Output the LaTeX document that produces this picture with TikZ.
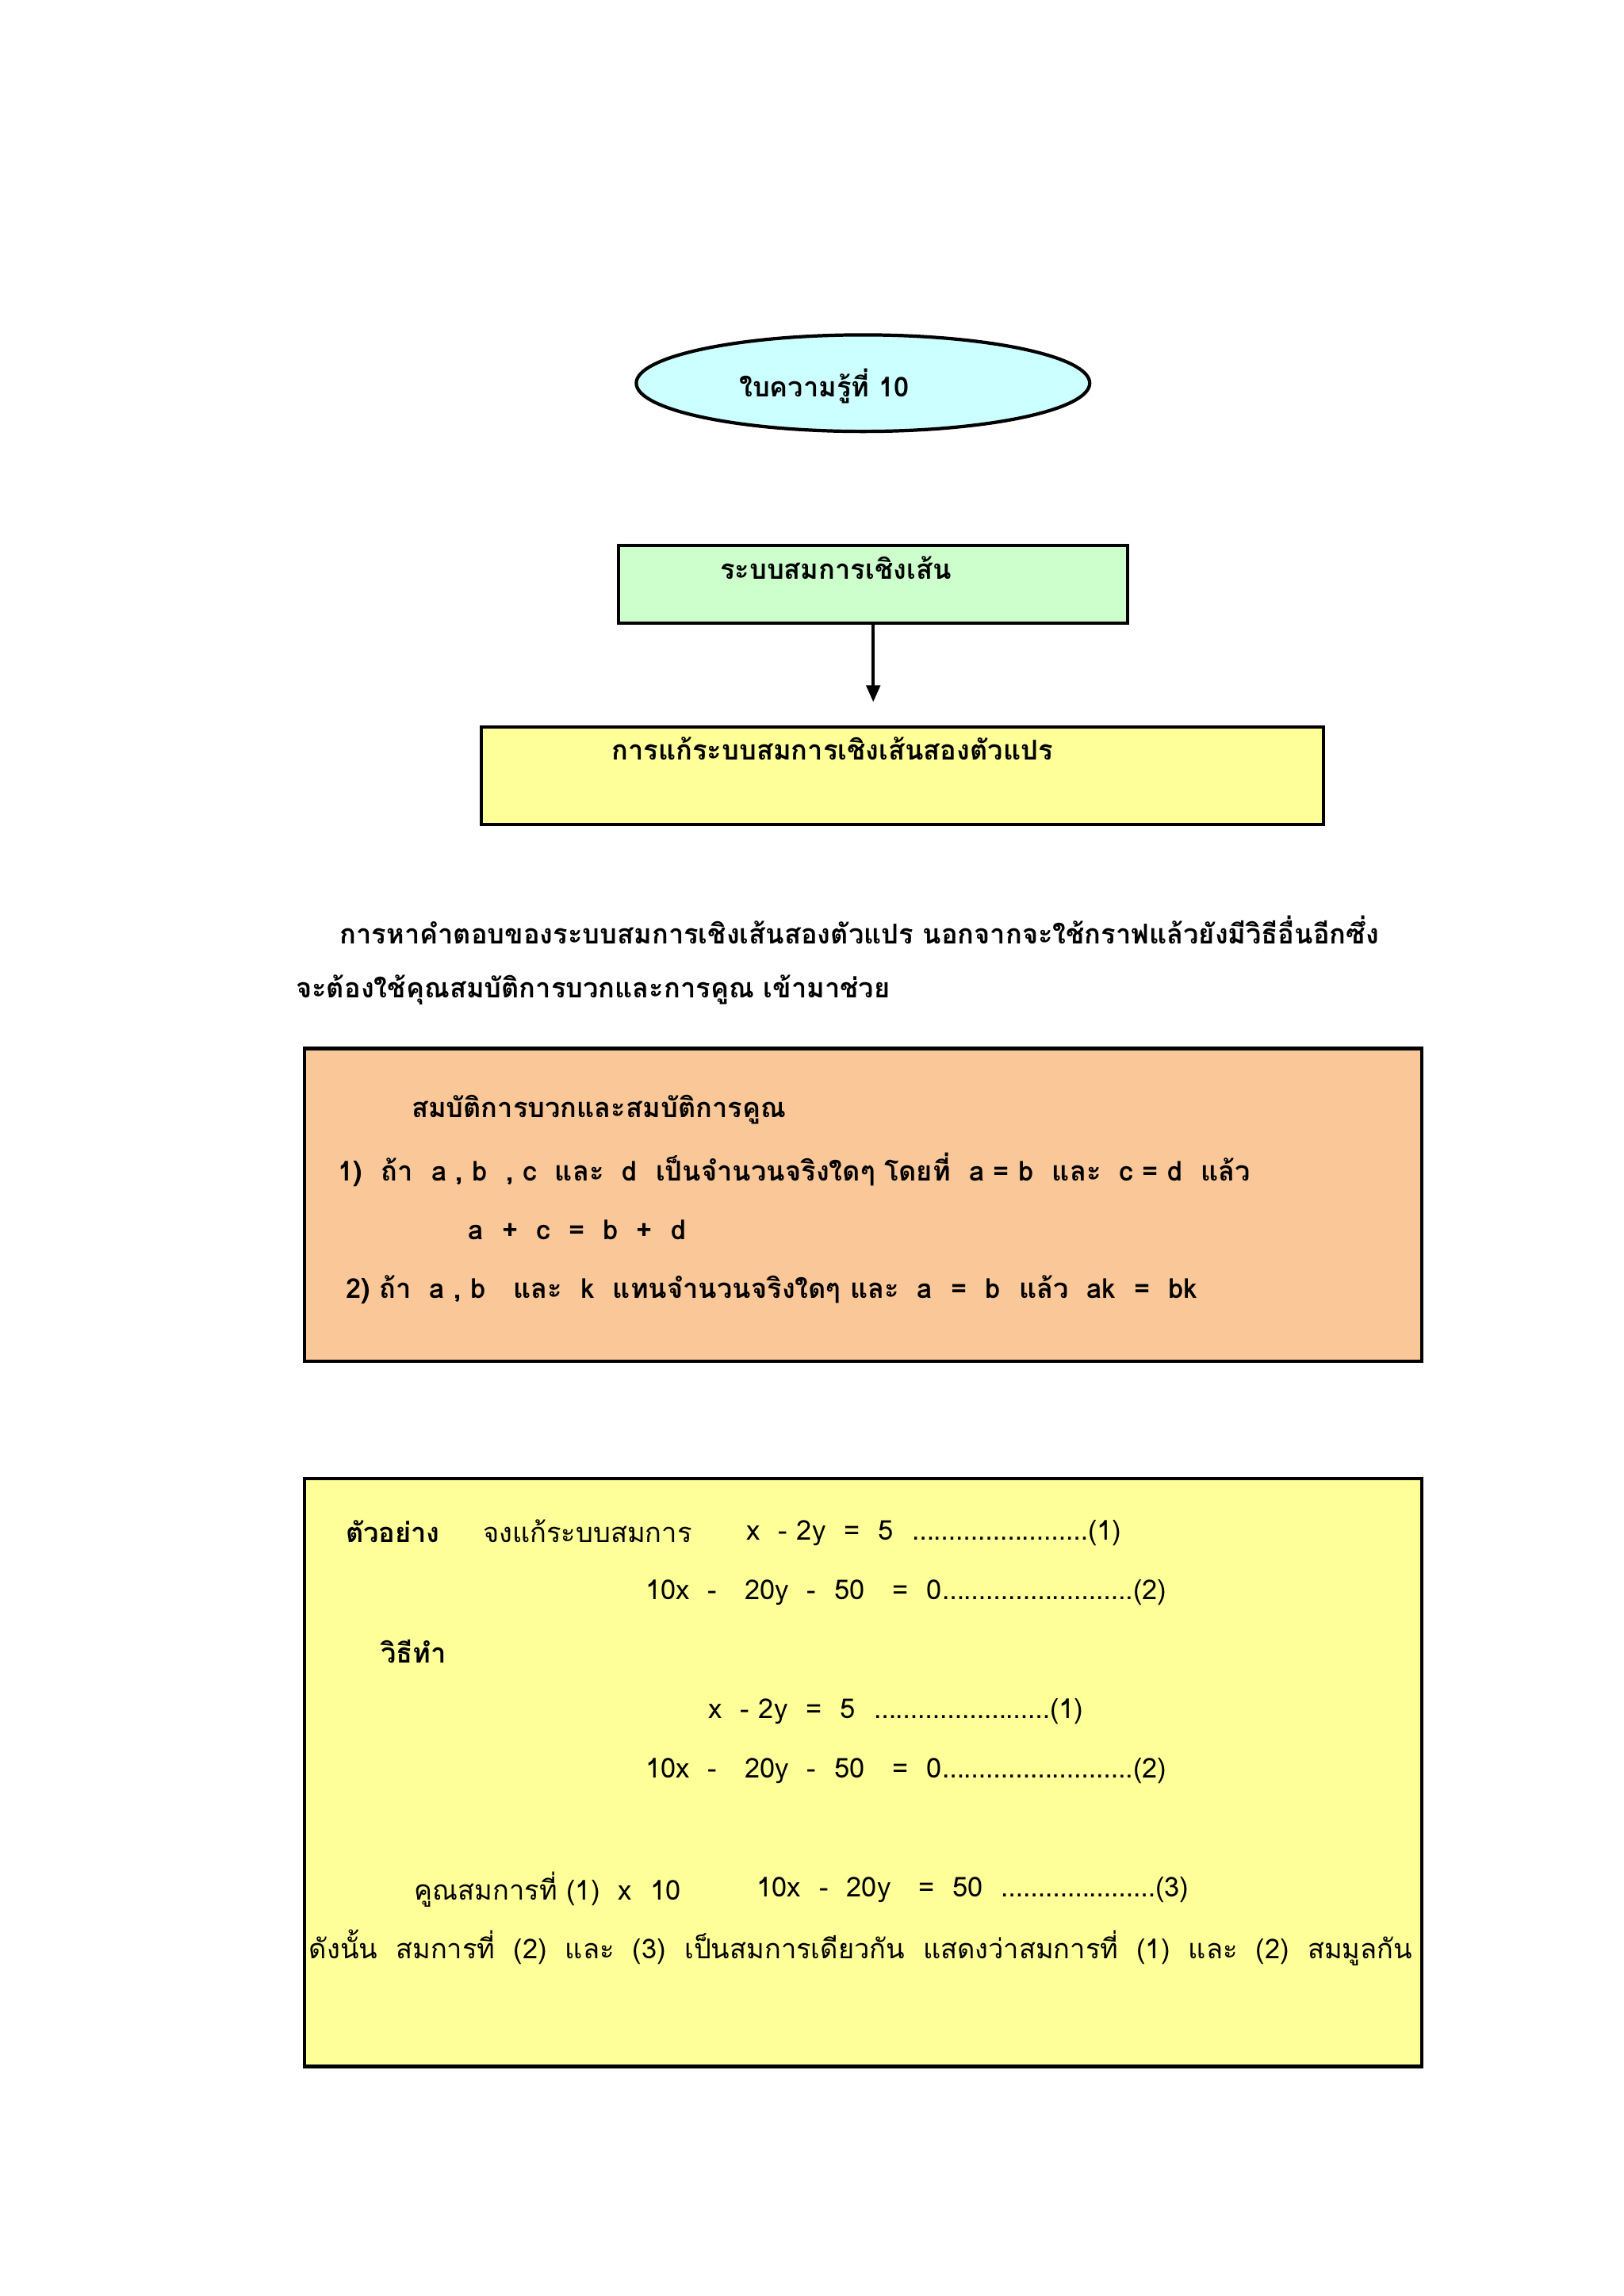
\documentclass[tikz,border=0pt]{standalone}
\usepackage{fontspec}
\setmainfont{Liberation Serif}
\newfontfamily\thai[Script=Thai]{Loma}
\usetikzlibrary{shapes.geometric,arrows.meta}
\begin{document}
\begin{tikzpicture}[x=0.01845cm,y=-0.01845cm,
  box/.style={draw,line width=1.2pt},
  t/.style={anchor=west,inner sep=0,font=\fontsize{9.8}{12}\selectfont\thai\bfseries},
  tn/.style={anchor=west,inner sep=0,font=\fontsize{9.8}{12}\selectfont\thai}]
\useasboundingbox (0,0) rectangle (1110,1570);
\fill[white] (0,0) rectangle (1110,1570);
\node[box,ellipse,fill={rgb,255:red,204;green,255;blue,255},minimum width=310*0.01845cm,minimum height=66*0.01845cm] (e) at (590,262) {};
\node[t] (et) at (505,264) {ใบความรู้ที่ 10};
\draw[box,fill={rgb,255:red,204;green,255;blue,204}] (423,373) rectangle (771,426);
\node[t] (g) at (492,388) {ระบบสมการเชิงเส้น};
\coordinate (a1) at (597,426); \coordinate (a2) at (597,480);
\draw[line width=1pt,-{Triangle[length=6pt,width=5pt]}] (a1) -- (a2);
\draw[box,fill={rgb,255:red,255;green,255;blue,153}] (329,497) rectangle (905,564);
\node[t] (y) at (418,512) {การแก้ระบบสมการเชิงเส้นสองตัวแปร};
\node[t] (p1) at (232,636) {การหาคำตอบของระบบสมการเชิงเส้นสองตัวแปร นอกจากจะใช้กราฟแล้วยังมีวิธีอื่นอีกซึ่ง};
\node[t] (p2) at (202,677) {จะต้องใช้คุณสมบัติการบวกและการคูณ เข้ามาช่วย};
\draw[box,fill={rgb,255:red,250;green,200;blue,152}] (208,717) rectangle (972,931);
\node[t] (o1) at (281,759) {สมบัติการบวกและสมบัติการคูณ};
\node[t] (o2) at (231,800) {1)\ \ ถ้า\ \ a , b\ \ , c\ \ และ\ \ d\ \ เป็นจำนวนจริงใดๆ โดยที่\ \ a = b\ \ และ\ \ c = d\ \ แล้ว};
\node[t] (o3) at (320,841) {a\ \ +\ \ c\ \ =\ \ b\ \ +\ \ d};
\node[t] (o4) at (236,882) {2)\ ถ้า\ \ a , b\ \ \ และ\ \ k\ \ แทนจำนวนจริงใดๆ และ\ \ a\ \ =\ \ b\ \ แล้ว\ \ ak\ \ =\ \ bk};
\draw[box,fill={rgb,255:red,255;green,255;blue,153}] (208,1011) rectangle (972,1413);
\node[t] (x1) at (236,1047) {ตัวอย่าง};
\node[tn] (x2) at (330,1047) {จงแก้ระบบสมการ};
\node[tn] (x3) at (510,1048) {x\ \ - 2y\ \ =\ \ 5\ \ ……………………(1)};
\node[tn] (x4) at (441,1089) {10x\ \ -\ \ \ 20y\ \ -\ \ 50\ \ \ =\ \ 0……………………..(2)};
\node[t] (x5) at (260,1129) {วิธีทำ};
\node[tn] (x6) at (484,1170) {x\ \ - 2y\ \ =\ \ 5\ \ ……………………(1)};
\node[tn] (x7) at (441,1211) {10x\ \ -\ \ \ 20y\ \ -\ \ 50\ \ \ =\ \ 0……………………..(2)};
\node[tn] (x8) at (283,1292) {คูณสมการที่ (1)\ \ x\ \ 10};
\node[tn] (x9) at (517,1292) {10x\ \ -\ \ 20y\ \ \ =\ \ 50\ \ …………………(3)};
\node[tn] (x10) at (211,1332) {ดังนั้น\ \ สมการที่\ \ (2)\ \ และ\ \ (3)\ \ เป็นสมการเดียวกัน\ \ แสดงว่าสมการที่\ \ (1)\ \ และ\ \ (2)\ \ สมมูลกัน};
\end{tikzpicture}
\end{document}
